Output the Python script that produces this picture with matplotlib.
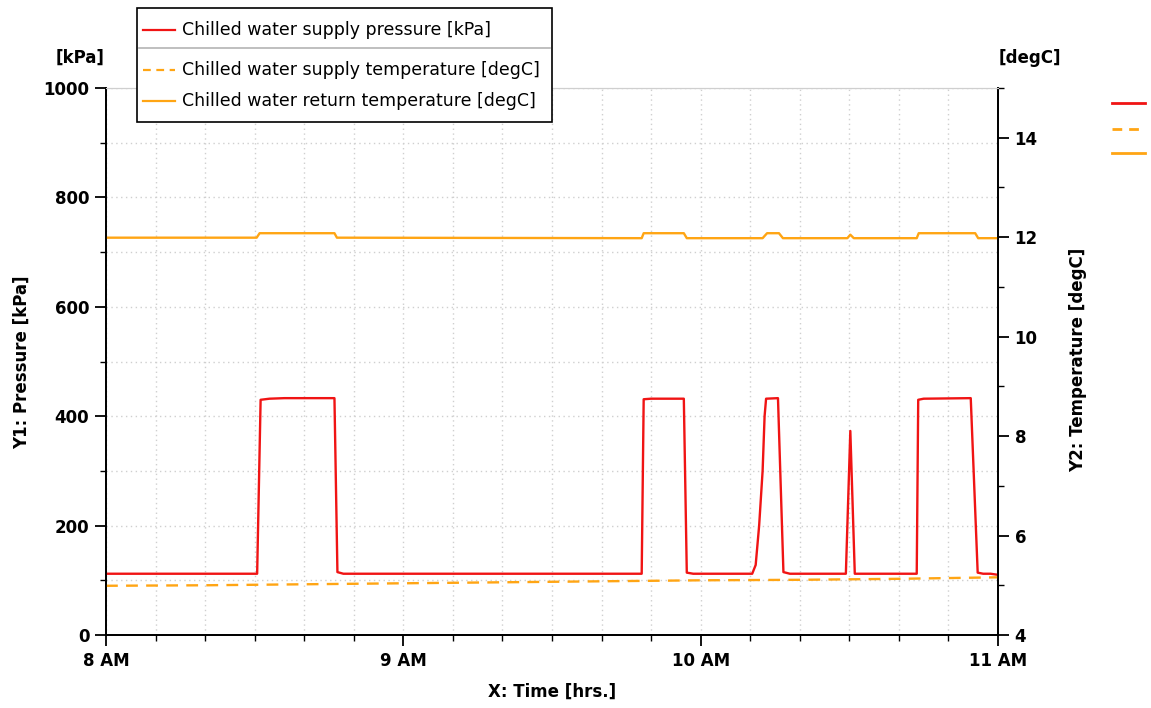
import matplotlib
matplotlib.use("Agg")
import matplotlib.pyplot as plt
from matplotlib.lines import Line2D
from matplotlib.ticker import MultipleLocator

# minutes after 8 AM
t_pressure = [0, 30.5, 31.2, 33, 36, 46.1, 46.7, 47.9,
              108.1, 108.5, 110, 116.6, 117.2, 118.5,
              130.4, 131.1, 131.8, 132.5, 132.9, 133.2, 135.6, 136.7, 138,
              149.3, 150.2, 151.1,
              163.6, 163.9, 165, 174.5, 175.9, 177, 178.5, 180]
pressure = [112, 112, 430, 432, 433, 433, 115, 112,
            112, 431, 432, 432, 114, 112,
            112, 128, 200, 300, 400, 432, 433, 115, 112,
            112, 373, 112,
            112, 430, 432, 433, 114, 112, 112, 110]

t_return = [0, 30.4, 31.0, 46.1, 46.6,
            108.1, 108.5, 116.6, 117.2,
            132.5, 133.4, 135.8, 136.6,
            149.6, 150.2, 150.9,
            163.6, 164.0, 175.4, 176.0, 180]
return_temp = [11.99, 11.99, 12.08, 12.08, 11.99,
               11.98, 12.08, 12.08, 11.98,
               11.98, 12.08, 12.08, 11.98,
               11.98, 12.05, 11.98,
               11.98, 12.08, 12.08, 11.98, 11.98]

t_supply = [0, 20, 40, 60, 80, 100, 120, 140, 160, 180]
supply_temp = [4.99, 5.00, 5.02, 5.04, 5.06, 5.08, 5.10, 5.11, 5.13, 5.16]

x_ticks = [0, 60, 120, 180]
x_labels = ["8 AM", "9 AM", "10 AM", "11 AM"]
legend_labels = ["Chilled water supply pressure [kPa]",
                 "Chilled water supply temperature [degC]",
                 "Chilled water return temperature [degC]"]

red = "#f01414"
orange = "#ffa514"
grid_c = "#cfcfcf"

fig = plt.figure(figsize=(11.51, 7.08), dpi=100)
W, H = 1151, 708
ax = fig.add_axes([106 / W, 1 - 635 / H, (998 - 106) / W, (635 - 88) / H])
ax2 = ax.twinx()

ax.plot(t_pressure, pressure, color=red, lw=1.7, zorder=3)
ax2.plot(t_supply, supply_temp, color=orange, lw=1.7, ls=(0, (5, 3.5)))
ax2.plot(t_return, return_temp, color=orange, lw=1.7)

ax.set_xlim(0, 180)
ax.set_ylim(0, 1000)
ax2.set_ylim(4, 15)

ax.set_xticks(x_ticks)
ax.set_xticklabels(x_labels)
ax.xaxis.set_minor_locator(MultipleLocator(10))
ax.yaxis.set_major_locator(MultipleLocator(200))
ax.yaxis.set_minor_locator(MultipleLocator(100))
ax2.set_yticks([4, 6, 8, 10, 12, 14])
ax2.yaxis.set_minor_locator(MultipleLocator(1))

for a in (ax, ax2):
    a.tick_params(which="major", length=8, width=1.3, direction="out",
                  labelsize=12, pad=4)
    a.tick_params(which="minor", length=4, width=1, direction="out")
    for lab in a.get_xticklabels() + a.get_yticklabels():
        lab.set_fontweight("bold")

ax.grid(True, which="both", color=grid_c, ls=(0, (1, 2.5)), lw=1)
ax.set_axisbelow(True)

for a in (ax, ax2):
    a.spines["top"].set_color(grid_c)
    a.spines["left"].set_linewidth(1.3)
    a.spines["bottom"].set_linewidth(1.3)
    a.spines["right"].set_linewidth(1.3)

# axis titles
fig.text(80 / W, 1 - 58 / H, "[kPa]", ha="center", va="center",
         fontsize=12, fontweight="bold")
fig.text(1030 / W, 1 - 58 / H, "[degC]", ha="center", va="center",
         fontsize=12, fontweight="bold")
fig.text(22 / W, 1 - 362 / H, "Y1: Pressure [kPa]", rotation=90,
         ha="center", va="center", fontsize=12, fontweight="bold")
fig.text(1078 / W, 1 - 360 / H, "Y2: Temperature [degC]", rotation=90,
         ha="center", va="center", fontsize=12, fontweight="bold")
fig.text(552 / W, 1 - 692 / H, "X: Time [hrs.]", ha="center", va="center",
         fontsize=12, fontweight="bold")

# legend box drawn by hand (separator between the two axes' entries)
box = plt.Rectangle((137 / W, 1 - 122 / H), (552 - 137) / W, (122 - 8) / H,
                    transform=fig.transFigure, facecolor="white",
                    edgecolor="black", lw=1.2, zorder=10)
fig.add_artist(box)
fig.add_artist(Line2D([139 / W, 550 / W], [1 - 48 / H, 1 - 48 / H],
                      transform=fig.transFigure, color="#b4b4b4", lw=1.2, zorder=11))
styles = [(red, "-"), (orange, (0, (3.5, 2.5))), (orange, "-")]
rows = [30, 70, 101]
for (c, ls), y, lab in zip(styles, rows, legend_labels):
    fig.add_artist(Line2D([143 / W, 175 / W], [1 - y / H, 1 - y / H],
                          transform=fig.transFigure, color=c, ls=ls, lw=1.6, zorder=11))
    fig.text(182 / W, 1 - y / H, lab, ha="left", va="center",
             fontsize=12.5, zorder=11)

# stray legend stubs at the right edge
for (c, ls), y in zip(styles, [103, 129, 153]):
    fig.add_artist(Line2D([1112 / W, 1145 / W], [1 - y / H, 1 - y / H],
                          transform=fig.transFigure, color=c, ls=ls, lw=2))

fig.savefig("out.png", dpi=100)
